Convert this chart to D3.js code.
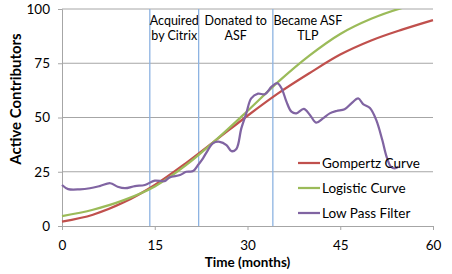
<!DOCTYPE html>
<html>
<head>
<meta charset="utf-8">
<script src="https://cdn.jsdelivr.net/npm/d3@7"></script>
<style>
  html, body { margin: 0; padding: 0; background: #fff; }
  svg { display: block; font-family: Lato, "Open Sans", sans-serif; }
</style>
</head>
<body>
<svg id="chart" width="452" height="274"></svg>
<script>
// fitted curves, read every 5 months
const months = [0, 5, 10, 15, 20, 25, 30, 35, 40, 45, 50, 55, 60];
const gompertz = [2.0, 5.2, 10.9, 18.9, 28.9, 39.8, 50.8, 61.2, 70.4, 79.0, 85.5, 90.5, 94.9];
const logistic = [4.6, 7.5, 11.9, 18.2, 27.9, 39.9, 53.0, 66.5, 78.5, 88.5, 95.5, 100.5, 104];

// low pass filtered contributor counts
const lpfMonths = [0, 1, 2.9, 4.5, 6.1, 7.8, 9, 10.2, 11.8, 13.4, 15, 16.6, 17.4, 19.1, 20.1, 21.2, 22, 22.8, 23.6, 24.4, 25.5, 26.6, 27.4, 28.2, 29, 29.8, 30.6, 31.7, 32.8, 33.9, 34.8, 35.5, 36.3, 37.1, 37.9, 39.1, 40.1, 41.1, 42.2, 43.3, 44.4, 45.7, 46.8, 47.9, 48.7, 49.8, 50.8, 51.8, 52.5, 53.2, 53.8, 54.4];
const lpfValues = [18.9, 17, 16.9, 17.4, 18.4, 19.7, 18.1, 17.4, 18.4, 18.9, 20.9, 20.7, 22.4, 23.5, 25, 25.3, 28.1, 31.2, 35, 38.1, 38.8, 37.3, 34.5, 35.5, 45, 51.9, 58.8, 61, 60.7, 64.2, 65.8, 63.5, 57.3, 52.7, 51.9, 54, 51.2, 47.6, 49.6, 51.9, 53, 53.8, 56.5, 58.8, 56.2, 54.4, 49, 39.6, 31.9, 27.3, 26.6, 27.3];

const eventMonths = [14.2, 22.1, 34.1];
const eventLabels = [['Acquired', 'by Citrix'], ['Donated to', 'ASF'], ['Became ASF', 'TLP']];

const xTicks = [0, 15, 30, 45, 60];
const yTicks = [0, 25, 50, 75, 100];

const seriesNames = ['Gompertz Curve', 'Logistic Curve', 'Low Pass Filter'];
const colors = { gompertz: '#C0504D', logistic: '#9BBB59', lpf: '#8064A2', event: '#8DB3E2', grid: '#A6A6A6' };

const svg = d3.select('#chart');
const margin = { top: 9, right: 19, bottom: 48, left: 62 };
const width = 452, height = 274;
const innerWidth = width - margin.left - margin.right;
const innerHeight = height - margin.top - margin.bottom;

const x = d3.scaleLinear().domain([0, 60]).range([0, innerWidth]);
const y = d3.scaleLinear().domain([0, 100]).range([innerHeight, 0]);

const g = svg.append('g').attr('transform', `translate(${margin.left},${margin.top})`);

svg.append('defs').append('clipPath').attr('id', 'plotClip')
  .append('rect').attr('x', -2).attr('y', 0).attr('width', innerWidth + 4).attr('height', innerHeight);

// horizontal gridlines
g.append('g')
  .selectAll('line')
  .data(yTicks.filter(d => d > 0))
  .enter()
  .append('line')
  .attr('x1', 0).attr('x2', innerWidth)
  .attr('y1', d => y(d)).attr('y2', d => y(d))
  .attr('stroke', colors.grid).attr('stroke-width', 1);

// axes
const yAxis = g.append('g').call(d3.axisLeft(y).tickValues(yTicks).tickSize(4).tickPadding(8));
const xAxis = g.append('g').attr('transform', `translate(0,${innerHeight})`)
  .call(d3.axisBottom(x).tickValues(xTicks).tickSize(4).tickPadding(10));
[xAxis, yAxis].forEach(ax => {
  ax.select('.domain').attr('stroke', colors.grid);
  ax.selectAll('line').attr('stroke', colors.grid);
  ax.selectAll('text').attr('font-size', 13.5).attr('fill', '#000').attr('font-family', 'Lato, sans-serif');
});

// event markers
eventMonths.forEach((m, i) => {
  g.append('line')
    .attr('x1', x(m)).attr('x2', x(m))
    .attr('y1', 0).attr('y2', innerHeight)
    .attr('stroke', colors.event).attr('stroke-width', 1.3);
  const mid = i < eventMonths.length - 1 ? (x(m) + x(eventMonths[i + 1])) / 2 : x(m) + 35;
  const t = g.append('text')
    .attr('text-anchor', 'middle')
    .attr('font-size', 12.5)
    .attr('fill', '#000');
  eventLabels[i].forEach((line, j) => {
    t.append('tspan').attr('x', mid).attr('y', 16 + j * 14.5).text(line);
  });
});

const plot = g.append('g').attr('clip-path', 'url(#plotClip)');
const curveLine = (vals) => d3.line()
  .x((d, i) => x(months[i]))
  .y(d => y(d))
  .curve(d3.curveMonotoneX)(vals);

plot.append('path').attr('d', curveLine(gompertz))
  .attr('fill', 'none').attr('stroke', colors.gompertz).attr('stroke-width', 2.25);
plot.append('path').attr('d', curveLine(logistic))
  .attr('fill', 'none').attr('stroke', colors.logistic).attr('stroke-width', 2.25);
plot.append('path')
  .datum(lpfValues)
  .attr('d', d3.line().x((d, i) => x(lpfMonths[i])).y(d => y(d)).curve(d3.curveCatmullRom.alpha(0.5)))
  .attr('fill', 'none').attr('stroke', colors.lpf).attr('stroke-width', 2.25);

// legend
const legend = svg.append('g').attr('transform', 'translate(298,163)');
const legendColors = [colors.gompertz, colors.logistic, colors.lpf];
seriesNames.forEach((name, i) => {
  const yy = i * 25;
  legend.append('line').attr('x1', 0).attr('x2', 22).attr('y1', yy).attr('y2', yy)
    .attr('stroke', legendColors[i]).attr('stroke-width', 2.25);
  legend.append('text').attr('x', 24).attr('y', yy + 4.5)
    .attr('font-size', 13.5).attr('fill', '#000').text(name);
});

// axis titles
svg.append('text')
  .attr('x', margin.left + x(30)).attr('y', 267)
  .attr('text-anchor', 'middle').attr('font-size', 13.5).attr('font-weight', 'bold')
  .text('Time (months)');
svg.append('text')
  .attr('transform', 'translate(21,99) rotate(-90)')
  .attr('text-anchor', 'middle').attr('font-size', 15).attr('font-weight', 'bold')
  .text('Active Contributors');
</script>
</body>
</html>
